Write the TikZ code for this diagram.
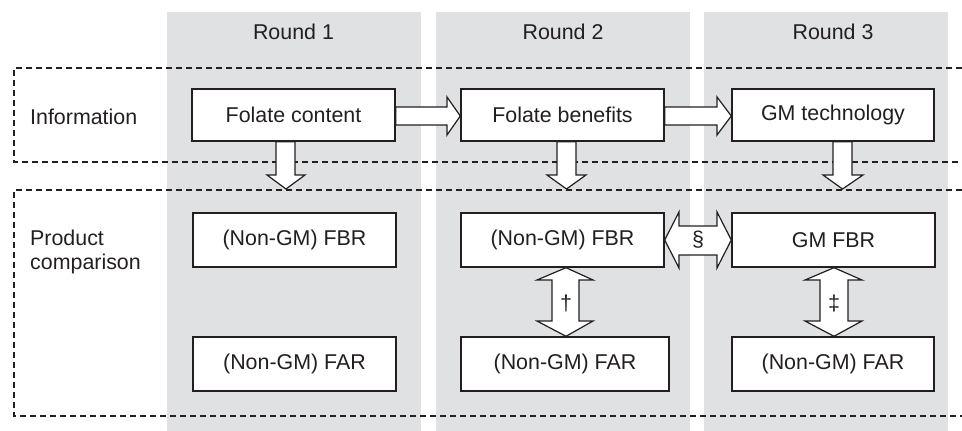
\documentclass[tikz,border=0pt]{standalone}
\usepackage{fontspec}
\setmainfont{Liberation Sans}
\definecolor{colgray}{RGB}{224,225,227}
\definecolor{ink}{RGB}{35,31,32}
\begin{document}
\begin{tikzpicture}[x=1pt,y=-1pt,
  font=\fontsize{21.4}{24.5}\selectfont, text=ink,
  colband/.style={fill=colgray},
  dashbox/.style={draw=ink, line width=1.2pt, dash pattern=on 6pt off 4pt},
  box/.style={draw=ink, fill=white, line width=1.4pt, inner sep=0pt, minimum height=52pt},
  blk/.style={draw=ink, fill=white, line width=1.2pt, line join=miter},
  lbl/.style={inner sep=0pt}]
\useasboundingbox (0,0) rectangle (962,431);
% round columns
\fill[colband] (167,12) rectangle (421,431);
\fill[colband] (436,12) rectangle (690,431);
\fill[colband] (704,12) rectangle (948,431);
% dashed groups
\draw[dashbox] (962,68) -- (14,68) -- (14,162) -- (962,162);
\draw[dashbox] (962,190) -- (14,190) -- (14,416) -- (962,416);
% labels
\node[lbl] (r1) at (293.5,32) {Round 1};
\node[lbl] (r2) at (563,32) {Round 2};
\node[lbl] (r3) at (833,32) {Round 3};
\node[lbl, anchor=west] (info) at (30,117) {Information};
\node[lbl, anchor=west, align=left] (prod) at (30,252) {Product\\comparison};
% boxes
\node[box, minimum width=203pt] (fc) at (293.5,115) {Folate content};
\node[box, minimum width=203pt] (fb) at (562.5,115) {Folate benefits};
\node[box, minimum width=202pt] (gmt) at (833,115) {GM technology};
\node[box, minimum width=203pt, minimum height=54pt] (fbr1) at (294.5,240) {(Non-GM) FBR};
\node[box, minimum width=203pt, minimum height=54pt] (fbr2) at (562.5,240) {(Non-GM) FBR};
\node[box, minimum width=203pt, minimum height=54pt] (gmfbr) at (833.5,240) {GM FBR};
\node[box, minimum width=203pt, minimum height=54pt] (far1) at (294.5,364) {(Non-GM) FAR};
\node[box, minimum width=208pt, minimum height=54pt] (far2) at (565,364) {(Non-GM) FAR};
\node[box, minimum width=202pt, minimum height=54pt] (far3) at (833,364) {(Non-GM) FAR};
% horizontal block arrows
\draw[blk] (fc.east |- 0,107) -- (447,107) -- (447,97) -- (fb.west |- 0,116) -- (447,135) -- (447,125) -- (fc.east |- 0,125) -- cycle;
\draw[blk] (fb.east |- 0,107) -- (717,107) -- (717,97) -- (gmt.west |- 0,116) -- (717,135) -- (717,125) -- (fb.east |- 0,125) -- cycle;
% down block arrows
\coordinate (d1) at (286,189);
\coordinate (d2) at (566.5,189);
\coordinate (d3) at (842.5,189);
\draw[blk] (276,0 |- fc.south) -- (276,175) -- (267,175) -- (d1) -- (305,175) -- (295,175) -- (295,0 |- fc.south) -- cycle;
\draw[blk] (557,0 |- fb.south) -- (557,175) -- (547,175) -- (d2) -- (586,175) -- (576,175) -- (576,0 |- fb.south) -- cycle;
\draw[blk] (833,0 |- gmt.south) -- (833,175) -- (823,175) -- (d3) -- (863,175) -- (852,175) -- (852,0 |- gmt.south) -- cycle;
% double arrow section
\draw[blk] (fbr2.east) -- (679,212) -- (679,226) -- (717,226) -- (717,212) -- (gmfbr.west) -- (717,268) -- (717,255) -- (679,255) -- (679,268) -- cycle;
\node[lbl] (sec) at (698,240) {\S};
\draw[blk] (566,0 |- fbr2.south) -- (593,280) -- (579,280) -- (579,321) -- (593,321) -- (566,0 |- far2.north) -- (537,321) -- (552,321) -- (552,280) -- (537,280) -- cycle;
\node[lbl] (dag) at (566,303) {\dag};
\draw[blk] (834,0 |- gmfbr.south) -- (862,280) -- (848,280) -- (848,321) -- (862,321) -- (834,0 |- far3.north) -- (805,321) -- (820,321) -- (820,280) -- (805,280) -- cycle;
\node[lbl] (ddag) at (834,303) {\ddag};
\end{tikzpicture}
\end{document}
